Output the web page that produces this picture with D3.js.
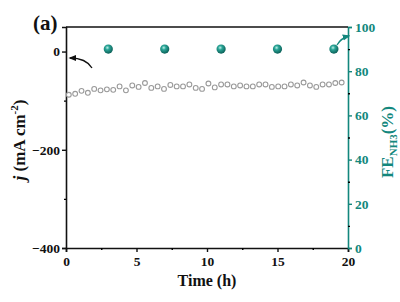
<!DOCTYPE html>
<html>
<head>
<meta charset="utf-8">
<script src="https://cdn.jsdelivr.net/npm/d3@7.9.0/dist/d3.min.js"></script>
<style>
  body { margin: 0; background: #fff; }
  svg text { font-family: "Liberation Serif", "DejaVu Serif", serif !important; font-weight: bold; }
</style>
</head>
<body>
<svg id="chart" width="400" height="302"></svg>
<script>
// current density (mA cm-2), one point every ~0.45 h
const jValues = [-88, -86, -80, -84, -76, -79, -77, -78, -71, -79, -69, -72, -64, -74, -71,
  -76, -68, -71, -71, -67, -74, -76, -65, -73, -67, -67, -71, -69, -71, -71, -67, -67, -72,
  -71, -71, -67, -69, -63, -69, -72, -67, -67, -64, -63];
// faradaic efficiency points
const feTimes = [3, 7, 11, 15, 19];
const feValues = [90, 90, 90, 90, 90];
const xTicks = [0, 5, 10, 15, 20];
const jTicks = [0, -200, -400];
const feTicks = [0, 20, 40, 60, 80, 100];

const teal = '#13877d';
const svg = d3.select('#chart');
const m = { left: 66, right: 348, top: 27, bottom: 248 };

const x = d3.scaleLinear().domain([0, 20]).range([m.left, m.right]);
const yJ = d3.scaleLinear().domain([-400, 50]).range([m.bottom, m.top]);
const yFE = d3.scaleLinear().domain([0, 100]).range([m.bottom, m.top]);

const jTimes = jValues.map((d, i) => 0.2 + i * 0.45);

// sphere gradient
const grad = svg.append('defs').append('radialGradient')
  .attr('id', 'ball').attr('cx', '40%').attr('cy', '35%').attr('r', '65%');
grad.append('stop').attr('offset', '0%').attr('stop-color', '#bff0e8');
grad.append('stop').attr('offset', '35%').attr('stop-color', '#2aa597');
grad.append('stop').attr('offset', '100%').attr('stop-color', '#0b5f57');

const arrowDefs = svg.select('defs');
[['headK', '#111'], ['headT', teal]].forEach(([id, c]) => {
  arrowDefs.append('marker').attr('id', id).attr('viewBox', '0 0 10 10')
    .attr('refX', 8).attr('refY', 5).attr('markerWidth', 6).attr('markerHeight', 6)
    .attr('orient', 'auto')
    .append('path').attr('d', 'M0,1 L10,5 L0,9 Z').attr('fill', c);
});

// axes
const xAxis = svg.append('g').attr('transform', `translate(0,${m.bottom})`)
  .call(d3.axisBottom(x).tickValues(xTicks).tickSize(4).tickPadding(4));
svg.append('g').attr('transform', `translate(0,${m.bottom})`)
  .call(d3.axisBottom(x).tickValues([2.5, 7.5, 12.5, 17.5]).tickSize(2).tickFormat(''))
  .select('.domain').remove();

const jAxis = svg.append('g').attr('transform', `translate(${m.left},0)`)
  .call(d3.axisLeft(yJ).tickValues(jTicks).tickSize(4).tickPadding(2));
svg.append('g').attr('transform', `translate(${m.left},0)`)
  .call(d3.axisLeft(yJ).tickValues([-100, -300]).tickSize(2).tickFormat(''))
  .select('.domain').remove();

const feAxis = svg.append('g').attr('transform', `translate(${m.right},0)`)
  .call(d3.axisRight(yFE).tickValues(feTicks).tickSize(4).tickPadding(3));
svg.append('g').attr('transform', `translate(${m.right},0)`)
  .call(d3.axisRight(yFE).tickValues([10, 30, 50, 70, 90]).tickSize(2).tickFormat(''))
  .select('.domain').remove();

svg.selectAll('g').attr('font-family', null).attr('font-size', null);
[xAxis, jAxis].forEach(g => {
  g.selectAll('path, line').attr('stroke', '#111').attr('stroke-width', 1.6);
  g.selectAll('text').attr('fill', '#111').style('font-size', '13.5px');
});
feAxis.selectAll('path, line').attr('stroke', teal).attr('stroke-width', 1.6);
feAxis.selectAll('text').attr('fill', teal).style('font-size', '13.5px');
svg.selectAll('.tick line').attr('stroke-width', 1.4);

// top border
svg.append('line').attr('x1', m.left).attr('x2', m.right)
  .attr('y1', m.top).attr('y2', m.top).attr('stroke', '#111').attr('stroke-width', 1.6);

// current density points
svg.append('g').selectAll('circle').data(jValues).join('circle')
  .attr('cx', (d, i) => x(jTimes[i])).attr('cy', d => yJ(d)).attr('r', 2.4)
  .attr('fill', '#fff').attr('stroke', '#9a9a9a').attr('stroke-width', 1.1);

// FE points
svg.append('g').selectAll('circle').data(feValues).join('circle')
  .attr('cx', (d, i) => x(feTimes[i])).attr('cy', d => yFE(d)).attr('r', 4.6)
  .attr('fill', 'url(#ball)');

// arrows
svg.append('path').attr('d', 'M92,68 Q86,58 70,58').attr('fill', 'none')
  .attr('stroke', '#111').attr('stroke-width', 1.3).attr('marker-end', 'url(#headK)');
svg.append('path').attr('d', 'M337,45 Q341,38 349,36').attr('fill', 'none')
  .attr('stroke', teal).attr('stroke-width', 1.3).attr('marker-end', 'url(#headT)');

// labels
svg.append('text').attr('x', 33).attr('y', 30).style('font-size', '21px').attr('fill', '#111').text('(a)');

svg.append('text').attr('x', (m.left + m.right) / 2).attr('y', 286).attr('text-anchor', 'middle')
  .style('font-size', '16px').attr('fill', '#111').text('Time (h)');

const jl = svg.append('text').attr('transform', 'translate(25,140) rotate(-90)')
  .attr('text-anchor', 'middle').style('font-size', '17px').attr('fill', '#111');
jl.append('tspan').style('font-style', 'italic').text('j');
jl.append('tspan').text(' (mA cm');
jl.append('tspan').attr('dy', -7).style('font-size', '11px').text('-2');
jl.append('tspan').attr('dy', 7).text(')');

const fl = svg.append('text').attr('transform', 'translate(393,142) rotate(-90)')
  .attr('text-anchor', 'middle').style('font-size', '17px').attr('fill', teal);
fl.append('tspan').text('FE');
fl.append('tspan').attr('dy', 4).style('font-size', '11px').text('NH3');
fl.append('tspan').attr('dy', -4).text('(%)');
</script>
</body>
</html>
